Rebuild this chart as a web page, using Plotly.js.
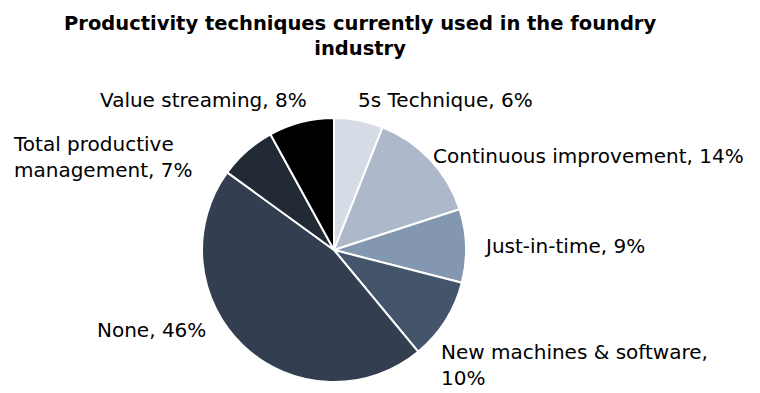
<!DOCTYPE html>
<html>
<head>
<meta charset="utf-8">
<script src="https://cdn.plot.ly/plotly-3.0.1.min.js"></script>
<style>html,body{margin:0;padding:0;background:#fff;}#chart{width:760px;height:393px;}</style>
</head>
<body>
<div id="chart"></div>
<script>
const categories = ["5s Technique", "Continuous improvement", "Just-in-time", "New machines & software", "None", "Total productive management", "Value streaming"];
const values = [6, 14, 9, 10, 46, 7, 8];
const colors = ["#D6DCE5", "#ADB9CA", "#8497B0", "#44546A", "#333F50", "#222A35", "#000000"];

const W = 760, H = 393;
const FONT = "DejaVu Sans, Verdana, sans-serif";
// label layout (pixel positions of label anchors), kept separate from data
const labelPlace = [
  {x: 357, y: 100, anchor: "left",  brk: -1},
  {x: 432, y: 156, anchor: "left",  brk: -1},
  {x: 483, y: 246, anchor: "left",  brk: -1},
  {x: 440, y: 365, anchor: "left",  brk: 0},
  {x: 207, y: 330, anchor: "right", brk: -1},
  {x: 12,  y: 157, anchor: "left",  brk: 1},
  {x: 308, y: 100, anchor: "right", brk: -1}
];

function labelText(c, v, brk) {
  const full = c + ", " + v + "%";
  if (brk < 0) return full;
  if (brk === 0) return c + ",<br>" + v + "%";
  const words = c.split(" ");
  return words.slice(0, brk + 1).join(" ") + "<br>" + words.slice(brk + 1).join(" ") + ", " + v + "%";
}

const annotations = categories.map((c, i) => ({
  xref: "paper", yref: "paper",
  x: labelPlace[i].x / W, y: 1 - labelPlace[i].y / H,
  xanchor: labelPlace[i].anchor, yanchor: "middle",
  align: "left",
  text: labelText(c, values[i], labelPlace[i].brk),
  showarrow: false,
  borderpad: 0,
  font: {family: FONT, size: 20, color: "#000"}
}));

annotations.push({
  xref: "paper", yref: "paper",
  x: 360 / W, y: 1 - 36 / H, xanchor: "center", yanchor: "middle",
  align: "center",
  text: "<b>Productivity techniques currently used in the foundry<br>industry</b>",
  showarrow: false,
  font: {family: FONT, size: 19.5, color: "#000"}
});

const cx = 334, cy = 250, r = 132;
const data = [{
  type: "pie",
  labels: categories,
  values: values,
  sort: false,
  direction: "clockwise",
  rotation: 0,
  textinfo: "none",
  hoverinfo: "label+percent",
  marker: {colors: colors, line: {color: "#ffffff", width: 2}},
  domain: {x: [(cx - r) / W, (cx + r) / W], y: [1 - (cy + r) / H, 1 - (cy - r) / H]},
  showlegend: false
}];

const layout = {
  width: W, height: H,
  margin: {l: 0, r: 0, t: 0, b: 0},
  paper_bgcolor: "#ffffff",
  annotations: annotations
};

Plotly.newPlot("chart", data, layout, {displayModeBar: false, staticPlot: true});
</script>
</body>
</html>
